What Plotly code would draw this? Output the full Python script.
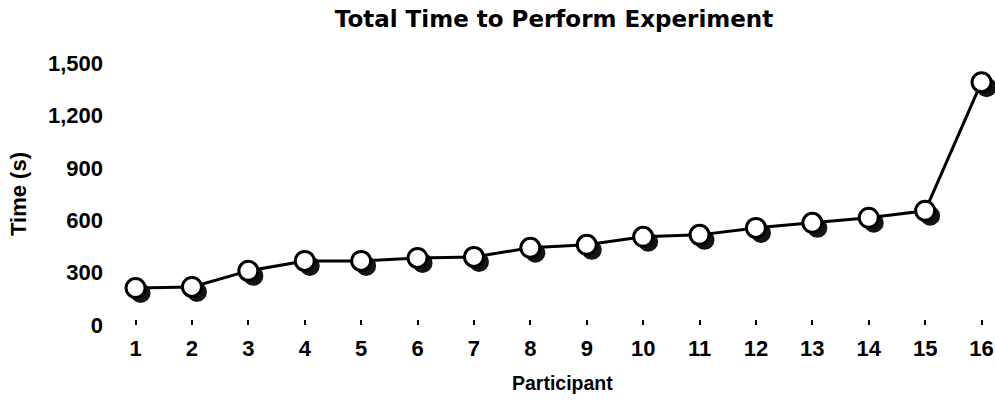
import plotly.graph_objects as go

participants = list(range(1, 17))
times = [212, 218, 310, 367, 367, 384, 390, 442, 459, 505, 516, 556, 585, 614, 654, 1390]
y_ticks = [0, 300, 600, 900, 1200, 1500]
y_tick_labels = ["0", "300", "600", "900", "1,200", "1,500"]

W, H = 995, 401
L, R, T, B = 113, 0, 63, 71
pw, ph = W - L - R, H - T - B
dx, dy = 5 / pw, 5 / ph

FONT = "Liberation Sans"

fig = go.Figure()
# shadow markers (drawn on a slightly shifted copy of the axes)
fig.add_trace(go.Scatter(
    x=participants, y=times, mode="markers", xaxis="x", yaxis="y",
    marker=dict(size=20, color="rgba(0,0,0,0.92)", line=dict(width=0)),
    hoverinfo="skip", showlegend=False, cliponaxis=False,
))
# main series
fig.add_trace(go.Scatter(
    x=participants, y=times, mode="lines+markers", xaxis="x2", yaxis="y2",
    line=dict(color="black", width=3),
    marker=dict(size=19, color="white", line=dict(color="black", width=3)),
    showlegend=False, cliponaxis=False,
))

xr = [0.6, 16.15]
yr = [0, 1500]
fig.update_layout(
    template="none",
    width=W, height=H,
    margin=dict(l=L, r=R, t=T, b=B, autoexpand=False),
    paper_bgcolor="white", plot_bgcolor="rgba(0,0,0,0)",
    font=dict(family=FONT, color="black", size=20),
    title=dict(text="<b>Total Time to Perform Experiment</b>", x=0.5, xref="paper",
               y=1 - 19 / H, yref="container", yanchor="middle", xanchor="center",
               font=dict(size=23, family="DejaVu Sans", color="black")),
    xaxis=dict(domain=[dx, 1], range=xr, visible=False, anchor="y", automargin=False),
    yaxis=dict(domain=[0, 1 - dy], range=yr, visible=False, anchor="x", automargin=False),
    xaxis2=dict(domain=[0, 1 - dx], range=xr, anchor="y2", automargin=False,
                tickmode="array", tickvals=participants,
                ticktext=[str(p) for p in participants],
                ticks="inside", ticklen=5, tickwidth=2, tickcolor="black",
                showline=False, showgrid=False, zeroline=False,
                ticklabelstandoff=8,
                tickfont=dict(size=22, family=FONT, color="black", weight="bold")),
    yaxis2=dict(domain=[dy, 1], range=yr, anchor="x2", automargin=False,
                tickmode="array", tickvals=y_ticks, ticktext=y_tick_labels,
                ticks="", showline=False, showgrid=False, zeroline=False,
                ticklabelstandoff=9,
                tickfont=dict(size=22, family=FONT, color="black", weight="bold"),
                title=dict(text="Time (s)", standoff=15,
                           font=dict(size=22, family=FONT, color="black", weight="bold"))),
    annotations=[dict(text="Participant", xref="paper", yref="paper",
                      x=(562 - L) / pw, y=(H - 383 - B) / ph,
                      xanchor="center", yanchor="middle", showarrow=False,
                      font=dict(size=19.5, family=FONT, color="black", weight="bold"))],
)

fig.write_html("out.html", config={"displayModeBar": False},
               post_script="document.body.style.margin='0';document.body.style.overflow='hidden';")
